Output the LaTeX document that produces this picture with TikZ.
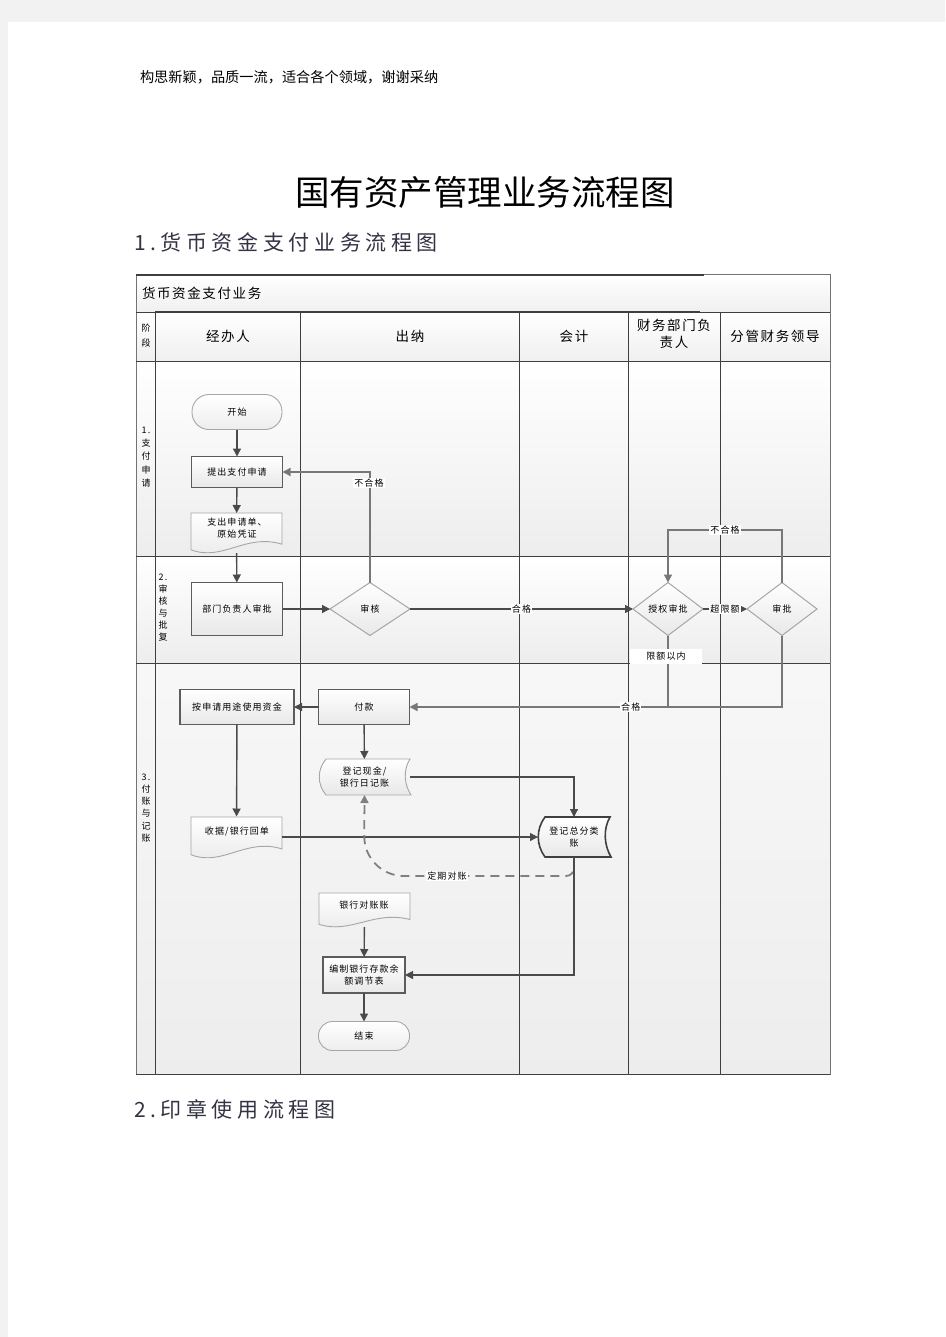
\documentclass[tikz,border=0pt]{standalone}
\usepackage{fontspec}
\setmainfont{Noto Sans CJK SC}
\newfontfamily\spfont{Noto Sans CJK SC}[LetterSpace=12]
\newfontfamily\subfont{Noto Sans CJK SC}[LetterSpace=22]
\usetikzlibrary{arrows.meta,shapes.geometric}
\definecolor{ln}{HTML}{3F3F3F}
\definecolor{pagebg}{HTML}{F2F2F2}
\definecolor{bd}{HTML}{A6A6A6}
\definecolor{wire}{HTML}{4A4A4A}
\definecolor{subc}{HTML}{333344}
\tikzset{
  every node/.style={inner sep=0pt,outer sep=0pt},
  ntext/.style={font=\spfont\fontsize{9}{12.5}\selectfont,align=center,text=black},
  htext/.style={font=\spfont\fontsize{13.5}{17}\selectfont,align=center,text=black},
  stagetext/.style={font=\spfont\fontsize{9}{#1}\selectfont,align=center,text=black},
  procbox/.style={ntext,rectangle,draw=ln!85,line width=1.2pt,top color=white,bottom color=black!9},
  pill/.style={ntext,rectangle,draw=bd,line width=0.9pt,top color=white,bottom color=black!7},
  dec/.style={ntext,diamond,draw=bd,line width=1pt,top color=white,bottom color=black!9},
  holder/.style={ntext,rectangle},
  shapefill/.style={draw=bd,line width=0.9pt,top color=white,bottom color=black!9},
  shapedark/.style={draw=ln,line width=1.6pt,top color=white,bottom color=black!9},
  wirearr/.style={draw=wire,line width=1.4pt,-{Triangle[length=8pt,width=8pt]}},
  wireline/.style={draw=wire,line width=1.4pt},
  graywire/.style={draw=wire!75,line width=1.4pt,-{Triangle[length=8pt,width=8pt]}},
  dasharr/.style={draw=black!50,line width=1.8pt,dash pattern=on 9pt off 6pt,-{Triangle[length=8pt,width=8pt]}},
  elabel/.style={ntext,fill=white,inner sep=1pt},
  laneline/.style={draw=ln,line width=1pt},
}
% document shape: l t r b
\newcommand\mydocshape[4]{%
  \path[shapefill] (#1,#2) -- (#3,#2) -- (#3,{#4-0.22*(#4-#2)})
    .. controls ({#3-0.4*(#3-#1)},{#4-0.5*(#4-#2)}) and ({#1+0.35*(#3-#1)},{#4+0.22*(#4-#2)})
    .. (#1,{#4-0.08*(#4-#2)}) -- cycle;}
% stored data shape: style l t r b
\newcommand\mystoreshape[5]{%
  \path[#1] ({#2+7},#3) -- (#4,#3)
    .. controls ({#4-7},{#3+0.3*(#5-#3)}) and ({#4-6},{#5-0.3*(#5-#3)}) .. ({#4+1},#5)
    -- ({#2+7},#5)
    .. controls ({#2-2},{#5-0.3*(#5-#3)}) and ({#2-2},{#3+0.3*(#5-#3)}) .. ({#2+7},#3) -- cycle;}
\begin{document}
\begin{tikzpicture}[x=1pt,y=-1pt]
\useasboundingbox (0,0) rectangle (945,1337);
\fill[pagebg] (0,0) rectangle (945,1337);
\fill[white] (8,22) rectangle (945,1337);

% page texts
\node[anchor=west,font=\fontsize{14.2}{17}\selectfont] (hdr) at (140,77) {构思新颖，品质一流，适合各个领域，谢谢采纳};
\node[font=\fontsize{34.5}{40}\selectfont] (ttl) at (485,192) {国有资产管理业务流程图};
\node[anchor=west,font=\subfont\fontsize{21}{25}\selectfont,text=subc] (sub1) at (134,242) {1.货币资金支付业务流程图};
\node[anchor=west,font=\subfont\fontsize{21}{25}\selectfont,text=subc] (sub2) at (134,1109) {2.印章使用流程图};

% lane backgrounds
\shade[top color=white,bottom color=black!6] (136,275) rectangle (830,312);
\shade[top color=white,bottom color=black!6] (136,312) rectangle (830,361);
\shade[top color=white,bottom color=black!7] (136,361) rectangle (830,556);
\shade[top color=white,bottom color=black!7] (136,556) rectangle (830,663);
\shade[top color=white!97!black,bottom color=black!7] (136,663) rectangle (830,1074);

% lane lines
\draw[draw=black!55,line width=1pt] (136,275) rectangle (830,1074);
\draw[ln,line width=1.8pt] (136,275) -- (704,275);
\draw[ln,line width=1.8pt] (155,312) -- (700,312);
\draw[laneline] (136,312) -- (830,312);
\foreach \xx in {155,300,519,628,720} \draw[laneline] (\xx,312) -- (\xx,1074);
\foreach \yy in {361,556,663} \draw[laneline] (136,\yy) -- (830,\yy);
\draw[laneline] (136,1074) -- (830,1074);

% header texts
\node[anchor=west,htext] (pool) at (142,293) {货币资金支付业务};
\node[stagetext=15] (hstage) at (146,335.5) {阶\\段};
\node[htext] (h1) at (228,336) {经办人};
\node[htext] (h2) at (410,336) {出纳};
\node[htext] (h3) at (574,336) {会计};
\node[htext] (h4) at (674,334) {财务部门负\\责人};
\node[htext] (h5) at (775,336) {分管财务领导};

% stage labels
\node[stagetext=13.2] (st1) at (146,457) {1.\\支\\付\\申\\请};
\node[stagetext=12] (st2) at (163,608) {2.\\审\\核\\与\\批\\复};
\node[stagetext=12.2] (st3) at (146,808) {3.\\付\\账\\与\\记\\账};

% shapes drawn behind
\mydocshape{191}{513}{282}{553}
\mydocshape{191}{817}{282}{858}
\mydocshape{319}{893}{410}{927}
\mystoreshape{shapefill}{319}{759}{410}{795}
\mystoreshape{shapedark}{538}{817}{610}{857}

% nodes
\node[pill,rounded corners=17pt,minimum width=90pt,minimum height=35pt] (start) at (237,412) {开始};
\node[procbox,minimum width=91pt,minimum height=31pt] (req) at (237,472) {提出支付申请};
\node[holder,minimum width=91pt,minimum height=40pt] (doc1) at (236.5,533) {};
\node[ntext] (doc1t) at (237,528) {支出申请单、\\原始凭证};
\node[procbox,minimum width=91pt,minimum height=53pt] (dept) at (237,609) {部门负责人审批};
\node[dec,minimum width=80pt,minimum height=53pt] (chk) at (370,609) {审核};
\node[dec,minimum width=70pt,minimum height=53pt] (auth) at (668,609) {授权审批};
\node[dec,minimum width=70pt,minimum height=53pt] (appr) at (782,609) {审批};
\node[procbox,minimum width=114pt,minimum height=35pt] (use) at (237,707) {按申请用途使用资金};
\node[procbox,minimum width=91pt,minimum height=35pt] (pay) at (364,707) {付款};
\node[holder,minimum width=91pt,minimum height=36pt] (cashj) at (364.5,777) {登记现金/\\银行日记账};
\node[holder,minimum width=91pt,minimum height=41pt] (rcpt) at (236.5,837) {};
\node[ntext] (rcptt) at (237,832) {收据/银行回单};
\node[holder,minimum width=72pt,minimum height=40pt] (gl) at (574,837) {登记总分类\\账};
\node[holder,minimum width=91pt,minimum height=34pt] (bank) at (364.5,910) {};
\node[ntext] (bankt) at (364,905) {银行对账账};
\node[procbox,minimum width=82pt,minimum height=36pt] (recon) at (364,975) {编制银行存款余\\额调节表};
\node[pill,rounded corners=14pt,minimum width=91pt,minimum height=29pt] (end) at (364,1036) {结束};

% connectors
\draw[wirearr] (start) -- (req);
\draw[wirearr] (req) -- (doc1);
\draw[wirearr] (doc1) -- (dept);
\draw[wirearr] (dept) -- (chk);
\draw[graywire] (chk.north) |- (req.east);
\node[elabel] (lbl1) at (369,483) {不合格};
\draw[wirearr] (chk.east) -- node[elabel] (lbl2) {合格} (auth.west);
\draw[wirearr] (auth.east) -- node[elabel] (lbl3) {超限额} (appr.west);
\draw[graywire] (appr.north) -- (782,530) -- node[elabel] (lbl4) {不合格} (668,530) -- (auth.north);
\draw[wireline,draw=wire!75] (auth.south) -- (668,707);
\draw[graywire] (appr.south) |- node[elabel,pos=0.703] (lbl5) {合格} (pay.east);
\node[ntext,fill=white,minimum width=72pt,minimum height=15pt] (lbl6) at (666,656) {限额以内};
\draw[wirearr] (pay) -- (use);
\draw[wirearr] (pay) -- (cashj);
\draw[wirearr] (use) -- (rcpt);
\draw[wirearr,line width=1.2pt] (rcpt.east) -- (gl.west);
\draw[wirearr,line width=1.2pt] (cashj.east) -| (gl.north);
\draw[dasharr] (gl.south) [rounded corners=8pt] -- (574,876) [rounded corners=40pt] -- (364,876) -- (cashj.south);
\node[elabel] (lbl7) at (447,876) {定期对账};
\draw[wirearr,line width=1.2pt] (gl.south) |- (recon.east);
\draw[wirearr] (bank) -- (recon);
\draw[wirearr] (recon) -- (end);
\end{tikzpicture}
\end{document}
